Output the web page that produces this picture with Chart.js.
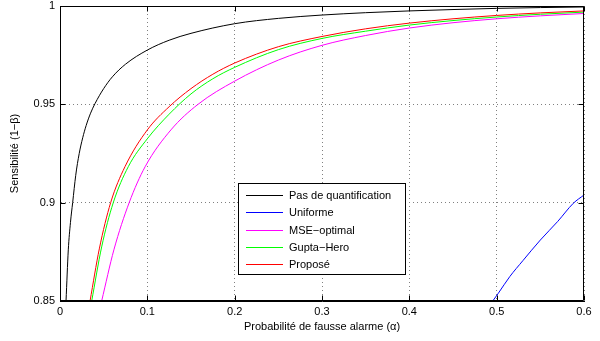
<!DOCTYPE html>
<html><head><meta charset="utf-8">
<script src="https://cdn.jsdelivr.net/npm/chart.js@4/dist/chart.umd.min.js"></script>
<style>html,body{margin:0;padding:0;background:#fff}</style>
</head><body>
<canvas id="c" width="600" height="341" style="display:block;width:600px;height:341px"></canvas>
<script>
// ---- Data ----
const seriesNames = ['Pas de quantification', 'Uniforme', 'MSE\u2212optimal', 'Gupta\u2212Hero', 'Propos\u00e9'];

const alphaPasQuant = [0.0069, 0.0095, 0.0120, 0.0145, 0.018, 0.022, 0.026, 0.030, 0.035, 0.040, 0.050, 0.060, 0.075, 0.100, 0.125, 0.150, 0.200, 0.250, 0.300, 0.350, 0.400, 0.450, 0.500, 0.550, 0.600];
const sensPasQuant  = [0.850, 0.876, 0.890, 0.900, 0.9139, 0.925, 0.933, 0.9393, 0.9455, 0.9503, 0.958, 0.964, 0.9704, 0.9776, 0.9826, 0.9861, 0.9910, 0.9937, 0.9954, 0.9966, 0.9975, 0.9982, 0.9988, 0.9992, 0.9995];

const alphaUniforme = [0.4955, 0.502, 0.515, 0.530, 0.550, 0.570, 0.5878, 0.600];
const sensUniforme  = [0.850, 0.854, 0.8624, 0.8705, 0.881, 0.8905, 0.8997, 0.9039];

const alphaMSE = [0.0477, 0.0617, 0.0792, 0.0975, 0.127, 0.158, 0.200, 0.250, 0.300, 0.350, 0.400, 0.450, 0.500, 0.550, 0.600];
const sensMSE  = [0.850, 0.876, 0.900, 0.9183, 0.937, 0.950, 0.9618, 0.9725, 0.9800, 0.9850, 0.9888, 0.9915, 0.9935, 0.9950, 0.9962];

const alphaGupta = [0.0363, 0.0477, 0.061, 0.0782, 0.100, 0.125, 0.150, 0.175, 0.200, 0.250, 0.300, 0.350, 0.400, 0.450, 0.500, 0.550, 0.600];
const sensGupta  = [0.850, 0.8775, 0.900, 0.9183, 0.9325, 0.9450, 0.9553, 0.9630, 0.9688, 0.9778, 0.9835, 0.9872, 0.9903, 0.9926, 0.9944, 0.9958, 0.9969];

const alphaPropose = [0.0344, 0.045, 0.058, 0.0744, 0.100, 0.125, 0.150, 0.175, 0.200, 0.250, 0.300, 0.350, 0.400, 0.450, 0.500, 0.550, 0.600];
const sensPropose  = [0.850, 0.8765, 0.900, 0.9183, 0.9370, 0.9488, 0.9580, 0.9653, 0.9710, 0.9793, 0.9845, 0.9884, 0.9913, 0.9935, 0.9952, 0.9965, 0.9975];

const xTickValues = [0, 0.1, 0.2, 0.3, 0.4, 0.5, 0.6];
const xTickLabels = ['0', '0.1', '0.2', '0.3', '0.4', '0.5', '0.6'];
const yTickValues = [0.85, 0.9, 0.95, 1];
const yTickLabels = ['0.85', '0.9', '0.95', '1'];

const xTitle = 'Probabilit\u00e9 de fausse alarme (\u03b1)';
const yTitle = 'Sensibilit\u00e9 (1\u2212\u03b2)';

// ---- Build chart ----
const pts = (xs, ys) => xs.map((x, i) => ({x: x, y: ys[i]}));
const colors = ['#000000', '#0000ff', '#ff00ff', '#00ff00', '#ff0000'];
const seriesData = [
  pts(alphaPasQuant, sensPasQuant),
  pts(alphaUniforme, sensUniforme),
  pts(alphaMSE, sensMSE),
  pts(alphaGupta, sensGupta),
  pts(alphaPropose, sensPropose)
];
const datasets = seriesData.map((d, i) => ({
  label: seriesNames[i],
  data: d,
  borderColor: colors[i],
  backgroundColor: colors[i],
  borderWidth: 1,
  pointRadius: 0,
  fill: false,
  cubicInterpolationMode: 'monotone',
  order: 4 - i
}));

const FONT = 'Liberation Sans, Arial, Helvetica, sans-serif';

const framePlugin = {
  id: 'frame',
  afterDatasetsDraw(chart) {
    const {ctx, chartArea: a, scales: {x, y}} = chart;
    const L = 5;
    const l = Math.round(a.left) + 0.5, r = Math.round(a.right) - 0.5;
    const t = Math.round(a.top) + 0.5, b = Math.round(a.bottom) - 0.5;
    ctx.save();
    ctx.strokeStyle = '#000';
    ctx.lineWidth = 1;
    ctx.beginPath();
    ctx.rect(l, t, r - l, b - t);
    x.ticks.forEach(tk => {
      const px = Math.round(x.getPixelForValue(tk.value)) + 0.5;
      ctx.moveTo(px, b); ctx.lineTo(px, b - L);
      ctx.moveTo(px, t); ctx.lineTo(px, t + L);
    });
    y.ticks.forEach(tk => {
      const py = Math.round(y.getPixelForValue(tk.value)) + 0.5;
      ctx.moveTo(l, py); ctx.lineTo(l + L, py);
      ctx.moveTo(r, py); ctx.lineTo(r - L, py);
    });
    ctx.stroke();
    ctx.restore();
  }
};

const legendPlugin = {
  id: 'legendBox',
  afterDraw(chart) {
    const ctx = chart.ctx;
    const bx = 238.5, by = 183.5, bw = 167, bh = 91;
    ctx.save();
    ctx.fillStyle = '#fff';
    ctx.fillRect(bx, by, bw, bh);
    ctx.strokeStyle = '#000';
    ctx.lineWidth = 1;
    ctx.strokeRect(bx, by, bw, bh);
    ctx.font = '11px ' + FONT;
    ctx.textBaseline = 'middle';
    ctx.textAlign = 'left';
    chart.data.datasets.forEach((ds, i) => {
      const yy = Math.round(195 + i * 17.3) + 0.5;
      ctx.strokeStyle = ds.borderColor;
      ctx.beginPath();
      ctx.moveTo(246, yy); ctx.lineTo(283, yy);
      ctx.stroke();
      ctx.fillStyle = '#000';
      ctx.fillText(ds.label, 289, yy + 0.5);
    });
    ctx.restore();
  }
};

new Chart(document.getElementById('c'), {
  type: 'line',
  data: { datasets: datasets },
  options: {
    responsive: false,
    animation: false,
    devicePixelRatio: 1,
    layout: { padding: { top: 6, right: 16, left: 0, bottom: 0 } },
    plugins: { legend: { display: false }, tooltip: { enabled: false } },
    elements: { line: { tension: 0 } },
    scales: {
      x: {
        type: 'linear',
        min: 0, max: 0.6,
        afterFit(s) { s.height = 40; s.paddingLeft = 0; s.paddingRight = 0; },
        afterBuildTicks(s) { s.ticks = xTickValues.map(v => ({value: v})); },
        ticks: {
          color: '#000',
          font: { family: FONT, size: 11 },
          padding: 4,
          maxRotation: 0,
          callback: (v, i) => xTickLabels[i]
        },
        grid: { color: '#808080', lineWidth: 1, drawTicks: false },
        border: { display: true, color: '#000', width: 1, dash: [1, 3] },
        title: { display: true, text: xTitle, color: '#000', font: { family: FONT, size: 11 }, padding: { top: 2, bottom: 7 } }
      },
      y: {
        type: 'linear',
        min: 0.85, max: 1,
        afterFit(s) { s.width = 60; s.paddingTop = 0; s.paddingBottom = 0; },
        afterBuildTicks(s) { s.ticks = yTickValues.map(v => ({value: v})); },
        ticks: {
          color: '#000',
          font: { family: FONT, size: 11, lineHeight: 1 },
          padding: 5,
          callback: (v, i) => yTickLabels[i]
        },
        grid: { color: '#808080', lineWidth: 1, drawTicks: false },
        border: { display: true, color: '#000', width: 1, dash: [1, 3] },
        title: { display: true, text: yTitle, color: '#000', font: { family: FONT, size: 11 }, padding: { top: 8, bottom: 2 } }
      }
    }
  },
  plugins: [framePlugin, legendPlugin]
});
</script>
</body></html>
